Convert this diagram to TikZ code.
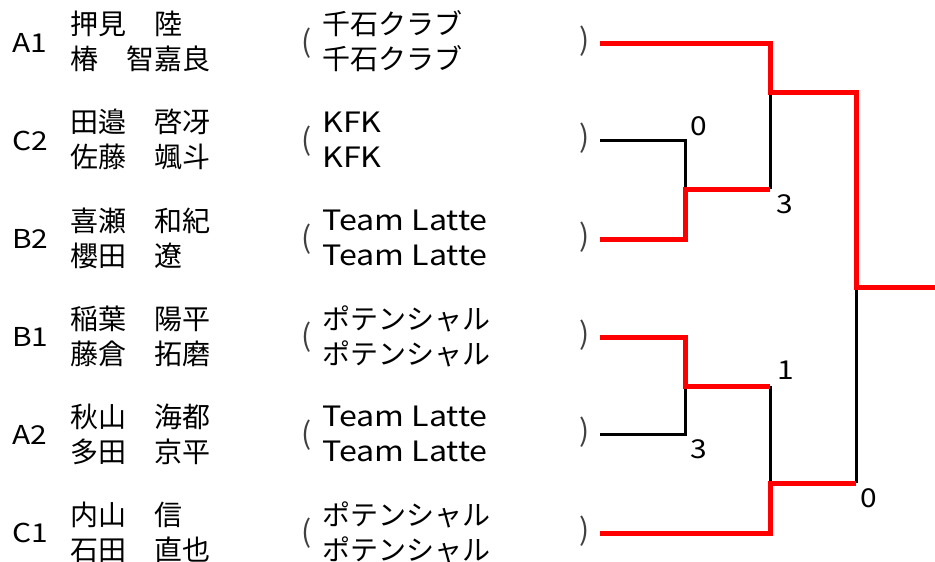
\documentclass[tikz,border=0pt]{standalone}
\usepackage{fontspec}
\setmainfont{Noto Sans CJK JP}
\newfontfamily\latinfont{Noto Sans CJK JP}[FakeStretch=1.15]
\usetikzlibrary{positioning}
\tikzstyle{seed} = [anchor=west, inner sep=0pt, font=\latinfont\fontsize{26}{34}\selectfont]
\tikzstyle{names} = [anchor=west, align=left, inner sep=0pt, font=\fontsize{28}{35}\selectfont]
\tikzstyle{team} = [anchor=west, align=left, inner sep=0pt, font=\fontsize{28}{35}\selectfont]
\tikzstyle{latinteam} = [team, font=\latinfont\fontsize{28}{35}\selectfont]
\tikzstyle{paren} = [inner sep=0pt, text=black!75, font=\fontsize{30}{30}\selectfont]
\tikzstyle{score} = [inner sep=0pt, font=\latinfont\fontsize{26}{26}\selectfont]
\tikzstyle{win} = [draw=red, line width=5pt]
\tikzstyle{lose} = [draw=black, line width=3pt]

\begin{document}
\begin{tikzpicture}[x=1pt, y=-1pt]
    \useasboundingbox (0,0) rectangle (935,562);
    % Place nodes
    \node [seed] (seedA1) at (12,43) {A1};
    \node [names] (pairA1) at (70,41) {押見　陸\\椿　智嘉良};
    \node [paren] (openA1) at (307,43) {(};
    \node [team] (clubA1) at (322,41) {千石クラブ\\千石クラブ};
    \node [paren] (closeA1) at (585,41) {)};

    \node [seed] (seedC2) at (12,141) {C2};
    \node [names] (pairC2) at (70,140) {田邉　啓冴\\佐藤　颯斗};
    \node [paren] (openC2) at (307,141) {(};
    \node [latinteam] (clubC2) at (322,140) {KFK\\KFK};
    \node [paren] (closeC2) at (585,138) {)};

    \node [seed] (seedB2) at (12,239) {B2};
    \node [names] (pairB2) at (70,238) {喜瀬　和紀\\櫻田　遼};
    \node [paren] (openB2) at (307,239) {(};
    \node [latinteam] (clubB2) at (322,238) {Team Latte\\Team Latte};
    \node [paren] (closeB2) at (585,237) {)};

    \node [seed] (seedB1) at (12,337) {B1};
    \node [names] (pairB1) at (70,336) {稲葉　陽平\\藤倉　拓磨};
    \node [paren] (openB1) at (307,337) {(};
    \node [team] (clubB1) at (322,336) {ポテンシャル\\ポテンシャル};
    \node [paren] (closeB1) at (585,335) {)};

    \node [seed] (seedA2) at (12,435) {A2};
    \node [names] (pairA2) at (70,434) {秋山　海都\\多田　京平};
    \node [paren] (openA2) at (307,435) {(};
    \node [latinteam] (clubA2) at (322,434) {Team Latte\\Team Latte};
    \node [paren] (closeA2) at (585,432) {)};

    \node [seed] (seedC1) at (12,533) {C1};
    \node [names] (pairC1) at (70,532) {内山　信\\石田　直也};
    \node [paren] (openC1) at (307,533) {(};
    \node [team] (clubC1) at (322,532) {ポテンシャル\\ポテンシャル};
    \node [paren] (closeC1) at (585,531) {)};

    % Bracket points
    \coordinate (inA1) at (600,43);
    \coordinate (inC2) at (600,140);
    \coordinate (inB2) at (600,239);
    \coordinate (inB1) at (600,337);
    \coordinate (inA2) at (600,434);
    \coordinate (inC1) at (600,533);
    \coordinate (qf1) at (685,189);
    \coordinate (qf2) at (685,386);
    \coordinate (sf1) at (770,92);
    \coordinate (sf1low) at (770,189);
    \coordinate (sf2) at (770,386);
    \coordinate (sf2low) at (770,483);
    \coordinate (fin) at (856,483);
    \coordinate (champ) at (856,287);
    \coordinate (out) at (935,287);

    % Scores
    \node [score] (scoreC2) at (699,126) {0};
    \node [score] (scoreB2) at (785,204) {3};
    \node [score] (scoreB1) at (786,370) {1};
    \node [score] (scoreA2) at (699,449) {3};
    \node [score] (scoreC1) at (869,498) {0};

    % Draw edges
    \path [lose] (inC2) -| (qf1);
    \path [lose] (sf1) -- (sf1low);
    \path [lose] (inA2) -| (qf2);
    \path [lose] (sf2) -- (sf2low);
    \path [lose] (fin) -- (champ);
    \path [win] (inB2) -| (qf1) -- (sf1low);
    \path [win] (inA1) -| (sf1) -| (champ) -- (out);
    \path [win] (inB1) -| (qf2) -- (sf2);
    \path [win] (inC1) -| (sf2low) -- (fin);
\end{tikzpicture}
\end{document}
